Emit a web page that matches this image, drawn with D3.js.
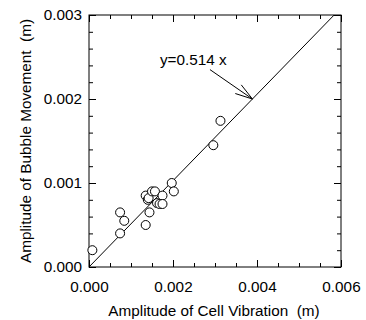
<!DOCTYPE html>
<html>
<head>
<meta charset="utf-8">
<script src="https://cdn.jsdelivr.net/npm/d3@7"></script>
<style>
  body { margin: 0; background: #fff; }
  text { font-family: "Liberation Sans", Arial, sans-serif; fill: #000; }
</style>
</head>
<body>
<svg id="chart" width="366" height="320"></svg>
<script>
// measured points (m)
const cellVib = [0.00008, 0.00074, 0.00074, 0.00084, 0.00135, 0.00144, 0.00135, 0.0014, 0.00142,
                 0.0015, 0.00157, 0.00175, 0.00162, 0.00168, 0.00175, 0.00197, 0.00202, 0.00296, 0.00313];
const bubbleMov = [0.0002, 0.0004, 0.00065, 0.00055, 0.0005, 0.00065, 0.00085, 0.0008, 0.00082,
                   0.0009, 0.0009, 0.00085, 0.00076, 0.00075, 0.00075, 0.001, 0.0009, 0.00145, 0.00174];
const slope = 0.514;
const xTicks = [0, 0.002, 0.004, 0.006];
const yTicks = [0, 0.001, 0.002, 0.003];
const fitLabel = "y=0.514 x";
const labelPos = [0.00169, 0.0024];     // text start
const arrowFrom = [0.00288, 0.00235];   // arrow tail
const arrowAtY = 0.002;                 // arrow tip sits on the line at this y

const svg = d3.select("#chart");
const fs = "15.3px";

const x = d3.scaleLinear().domain([0, 0.006]).range([89, 341]);
const y = d3.scaleLinear().domain([0, 0.003]).range([267, 15]);

const xMinor = d3.range(0, 0.0060001, 0.0005);
const yMinor = d3.range(0, 0.0030001, 0.0002);

function styleAxis(g) {
  g.select(".domain").remove();
  g.selectAll("line").attr("stroke", "#000");
  g.selectAll("text").style("font-size", fs).attr("fill", "#000");
  g.attr("font-family", null);
}

// minor ticks on all four sides
svg.append("g").attr("transform", "translate(0,267)")
  .call(d3.axisBottom(x).tickValues(xMinor).tickSize(-4).tickFormat("")).call(styleAxis);
svg.append("g").attr("transform", "translate(0,15)")
  .call(d3.axisTop(x).tickValues(xMinor).tickSize(-4).tickFormat("")).call(styleAxis);
svg.append("g").attr("transform", "translate(89,0)")
  .call(d3.axisLeft(y).tickValues(yMinor).tickSize(-4).tickFormat("")).call(styleAxis);
svg.append("g").attr("transform", "translate(341,0)")
  .call(d3.axisRight(y).tickValues(yMinor).tickSize(-4).tickFormat("")).call(styleAxis);

// major ticks + labels
svg.append("g").attr("transform", "translate(0,267)")
  .call(d3.axisBottom(x).tickValues(xTicks).tickSize(-7).tickPadding(14).tickFormat(d3.format(".3f")))
  .call(styleAxis);
svg.append("g").attr("transform", "translate(0,15)")
  .call(d3.axisTop(x).tickValues(xTicks).tickSize(-7).tickFormat("")).call(styleAxis);
svg.append("g").attr("transform", "translate(89,0)")
  .call(d3.axisLeft(y).tickValues(yTicks).tickSize(-7).tickPadding(7).tickFormat(d3.format(".3f")))
  .call(styleAxis);
svg.append("g").attr("transform", "translate(341,0)")
  .call(d3.axisRight(y).tickValues(yTicks).tickSize(-7).tickFormat("")).call(styleAxis);

// frame
svg.append("rect")
  .attr("x", x(0)).attr("y", y(0.003))
  .attr("width", x(0.006) - x(0)).attr("height", y(0) - y(0.003))
  .attr("fill", "none").attr("stroke", "#000");

// fit line
const xEnd = 0.003 / slope;
svg.append("line")
  .attr("x1", x(0)).attr("y1", y(0))
  .attr("x2", x(xEnd)).attr("y2", y(slope * xEnd))
  .attr("stroke", "#000").attr("stroke-width", 1);

// points
svg.append("g").selectAll("circle")
  .data(cellVib.map((v, i) => [v, bubbleMov[i]]))
  .join("circle")
  .attr("cx", d => x(d[0])).attr("cy", d => y(d[1]))
  .attr("r", 4.5)
  .attr("fill", "#fff").attr("stroke", "#000").attr("stroke-width", 1);

// annotation
svg.append("text")
  .attr("x", x(labelPos[0])).attr("y", y(labelPos[1]))
  .style("font-size", fs).text(fitLabel);

const tx = x(arrowAtY / slope), ty = y(arrowAtY);
const fx = x(arrowFrom[0]), fy = y(arrowFrom[1]);
svg.append("line")
  .attr("x1", fx).attr("y1", fy).attr("x2", tx).attr("y2", ty)
  .attr("stroke", "#000");
const ang = Math.atan2(fy - ty, fx - tx);
const headLen = 18, spread = 17 * Math.PI / 180;
[ang - spread, ang + spread].forEach(a => {
  svg.append("line")
    .attr("x1", tx).attr("y1", ty)
    .attr("x2", tx + headLen * Math.cos(a)).attr("y2", ty + headLen * Math.sin(a))
    .attr("stroke", "#000");
});

// axis titles
svg.append("text")
  .attr("x", 214).attr("y", 316)
  .attr("text-anchor", "middle").style("font-size", fs)
  .text("Amplitude of Cell Vibration\u00a0\u00a0(m)");
svg.append("text")
  .attr("transform", "translate(31,141) rotate(-90)")
  .attr("text-anchor", "middle").style("font-size", fs)
  .text("Amplitude of Bubble Movement\u00a0\u00a0(m)");
</script>
</body>
</html>
